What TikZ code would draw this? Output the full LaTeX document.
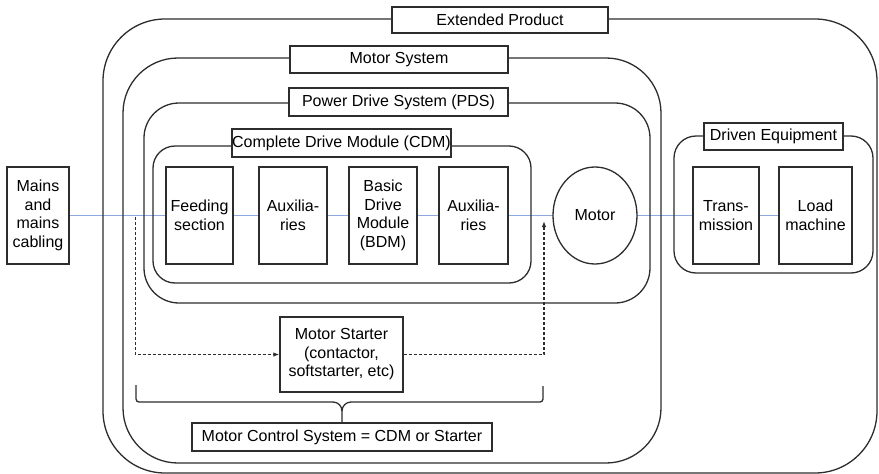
\documentclass[tikz,border=0pt]{standalone}
\usepackage{fontspec}
\setmainfont{Liberation Sans}
\usetikzlibrary{shapes.geometric,arrows.meta}
\definecolor{ink}{RGB}{45,45,45}
\definecolor{wire}{RGB}{140,170,225}
\tikzset{
  every node/.style={font=\fontsize{16}{18.5}\selectfont, text=black},
  region/.style={draw=ink, line width=1.3pt, rectangle, inner sep=0pt},
  box/.style={draw=ink, line width=1.3pt, fill=white, rectangle, align=center, inner sep=0.5pt},
  lbl/.style={box, minimum height=27pt},
  ctrl/.style={draw=ink, line width=1.2pt, dash pattern=on 3pt off 2pt, -{Latex[length=6pt,width=4.5pt]}},
}
\begin{document}
\begin{tikzpicture}[x=1pt,y=-1pt]
\useasboundingbox (0,0) rectangle (879,474);
% wire behind everything
\coordinate (wl) at (69,215.5);
\coordinate (wr) at (779,215.5);
\draw[wire, line width=1.4pt] (wl) -- (wr);
% regions
\node[region, rounded corners=62pt, minimum width=774pt, minimum height=454pt] (ext) at (490,246) {};
\node[region, rounded corners=55pt, minimum width=538pt, minimum height=405pt] (ms) at (392,260.5) {};
\node[region, rounded corners=35pt, minimum width=506pt, minimum height=200pt] (pds) at (397,203) {};
\node[region, rounded corners=22pt, minimum width=378pt, minimum height=137pt] (cdm) at (342,214.5) {};
\node[region, rounded corners=22pt, minimum width=199pt, minimum height=137pt] (de) at (773.5,204.5) {};
% labels
\node[lbl, minimum width=216pt, minimum height=26pt] (extl) at (500,20) {Extended Product};
\node[lbl, minimum width=218pt] (msl) at (399,59.5) {Motor System};
\node[lbl, minimum width=219pt, minimum height=28pt] (pdsl) at (398.5,102) {Power Drive System (PDS)};
\node[lbl, minimum width=219pt, minimum height=28pt, inner sep=0pt] (cdml) at (341.5,143) {Complete Drive Module (CDM)};
\node[lbl, minimum width=139pt] (del) at (773.5,136.5) {Driven Equipment};
\node[lbl, minimum width=300pt, minimum height=28pt] (mcsl) at (342,437) {Motor Control System = CDM or Starter};
% blocks
\node[box, minimum width=62pt, minimum height=97pt] (mains) at (38,215.5) {Mains\\and\\mains\\cabling};
\node[box, minimum width=67pt, minimum height=97pt] (feed) at (199.5,215.5) {Feeding\\section};
\node[box, minimum width=68pt, minimum height=97pt] (aux1) at (293,215.5) {Auxilia-\\ries};
\node[box, minimum width=68pt, minimum height=97pt] (bdm) at (383,215.5) {Basic\\Drive\\Module\\(BDM)};
\node[box, minimum width=69pt, minimum height=97pt] (aux2) at (473.5,215.5) {Auxilia-\\ries};
\node[box, ellipse, inner sep=0pt, minimum width=84pt, minimum height=97pt] (motor) at (595,215.5) {Motor};
\node[box, minimum width=66pt, minimum height=97pt] (trans) at (726,215.5) {Trans-\\mission};
\node[box, minimum width=73pt, minimum height=97pt] (load) at (815.5,215.5) {Load\\machine};
\node[box, minimum width=123pt, minimum height=75pt] (start) at (341.5,354.5) {Motor Starter\\(contactor,\\softstarter, etc)};
% control (dashed) connections
\coordinate (tap) at (135.7,216.5);
\coordinate (feedin) at (544,221);
\draw[ctrl] (tap) |- (start.west);
\draw[ctrl] (start.east) -| (feedin);
% brace
\coordinate (bl) at (136,385);
\coordinate (br) at (543,386);
\draw[ink, line width=1.3pt, rounded corners=3pt] (bl) -- (136,402) -- (333,402);
\draw[ink, line width=1.3pt] (333,402) to[out=0,in=90] (342,411) -- (mcsl.north);
\draw[ink, line width=1.3pt] (342,411) to[out=90,in=180] (351,402);
\draw[ink, line width=1.3pt, rounded corners=3pt] (351,402) -- (543,402) -- (br);
\end{tikzpicture}
\end{document}
